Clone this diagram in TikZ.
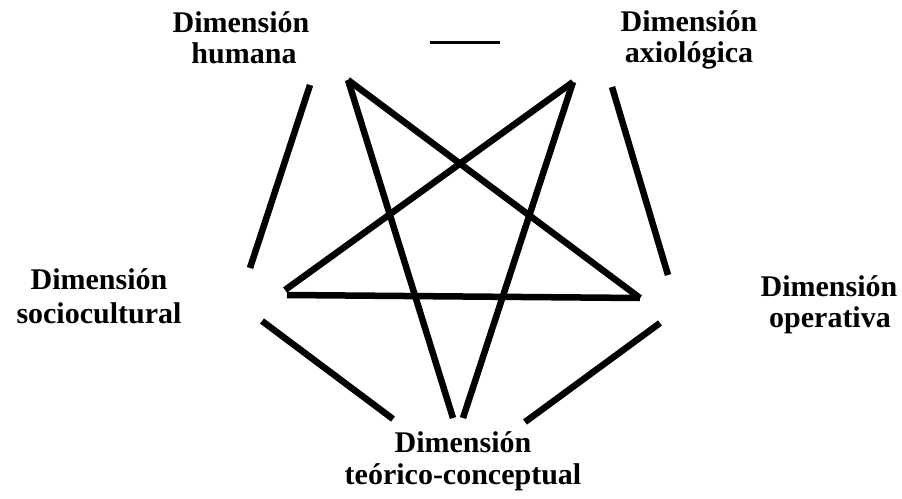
\documentclass[tikz,border=0pt]{standalone}
\usepackage{fontspec}
\setmainfont{Liberation Serif}
\begin{document}
\begin{tikzpicture}[x=1pt,y=-1pt,
  lbl/.style={font=\bfseries\fontsize{30}{30}\selectfont, anchor=base, inner sep=0pt},
  edge/.style={line width=6.5pt},
  thinedge/.style={line width=3pt}]
\useasboundingbox (0,0) rectangle (902,498);
% labels
\node[lbl] (hum1) at (241,32) {Dimensión};
\node[lbl] (hum2) at (244,63) {humana};
\node[lbl] (axi1) at (689,31) {Dimensión};
\node[lbl] (axi2) at (689,62) {axiológica};
\node[lbl] (soc1) at (99,289) {Dimensión};
\node[lbl] (soc2) at (99,323) {sociocultural};
\node[lbl] (ope1) at (829,296) {Dimensión};
\node[lbl] (ope2) at (830,327) {operativa};
\node[lbl] (teo1) at (463,452) {Dimensión};
\node[lbl] (teo2) at (463,484) {teórico-conceptual};
% star vertices
\coordinate (A) at (348,80);
\coordinate (B) at (573,82);
\coordinate (L) at (285,290);
\coordinate (L2) at (287,295);
\coordinate (R) at (640,298);
\coordinate (Da) at (453,418);
\coordinate (Db) at (463,418);
\draw[edge] (A) -- (R);
\draw[edge] (A) -- (Da);
\draw[edge] (B) -- (L);
\draw[edge] (B) -- (Db);
\draw[edge] (L2) -- (R);
% outer segments
\coordinate (o1a) at (310,85);  \coordinate (o1b) at (250,268);
\coordinate (o2a) at (612,87);  \coordinate (o2b) at (668,275);
\coordinate (o3a) at (262,321); \coordinate (o3b) at (393,419);
\coordinate (o4a) at (660,323); \coordinate (o4b) at (525,422);
\coordinate (o5a) at (430,42);  \coordinate (o5b) at (500,42);
\draw[edge] (o1a) -- (o1b);
\draw[edge] (o2a) -- (o2b);
\draw[edge] (o3a) -- (o3b);
\draw[edge] (o4a) -- (o4b);
\draw[thinedge] (o5a) -- (o5b);
\end{tikzpicture}
\end{document}
